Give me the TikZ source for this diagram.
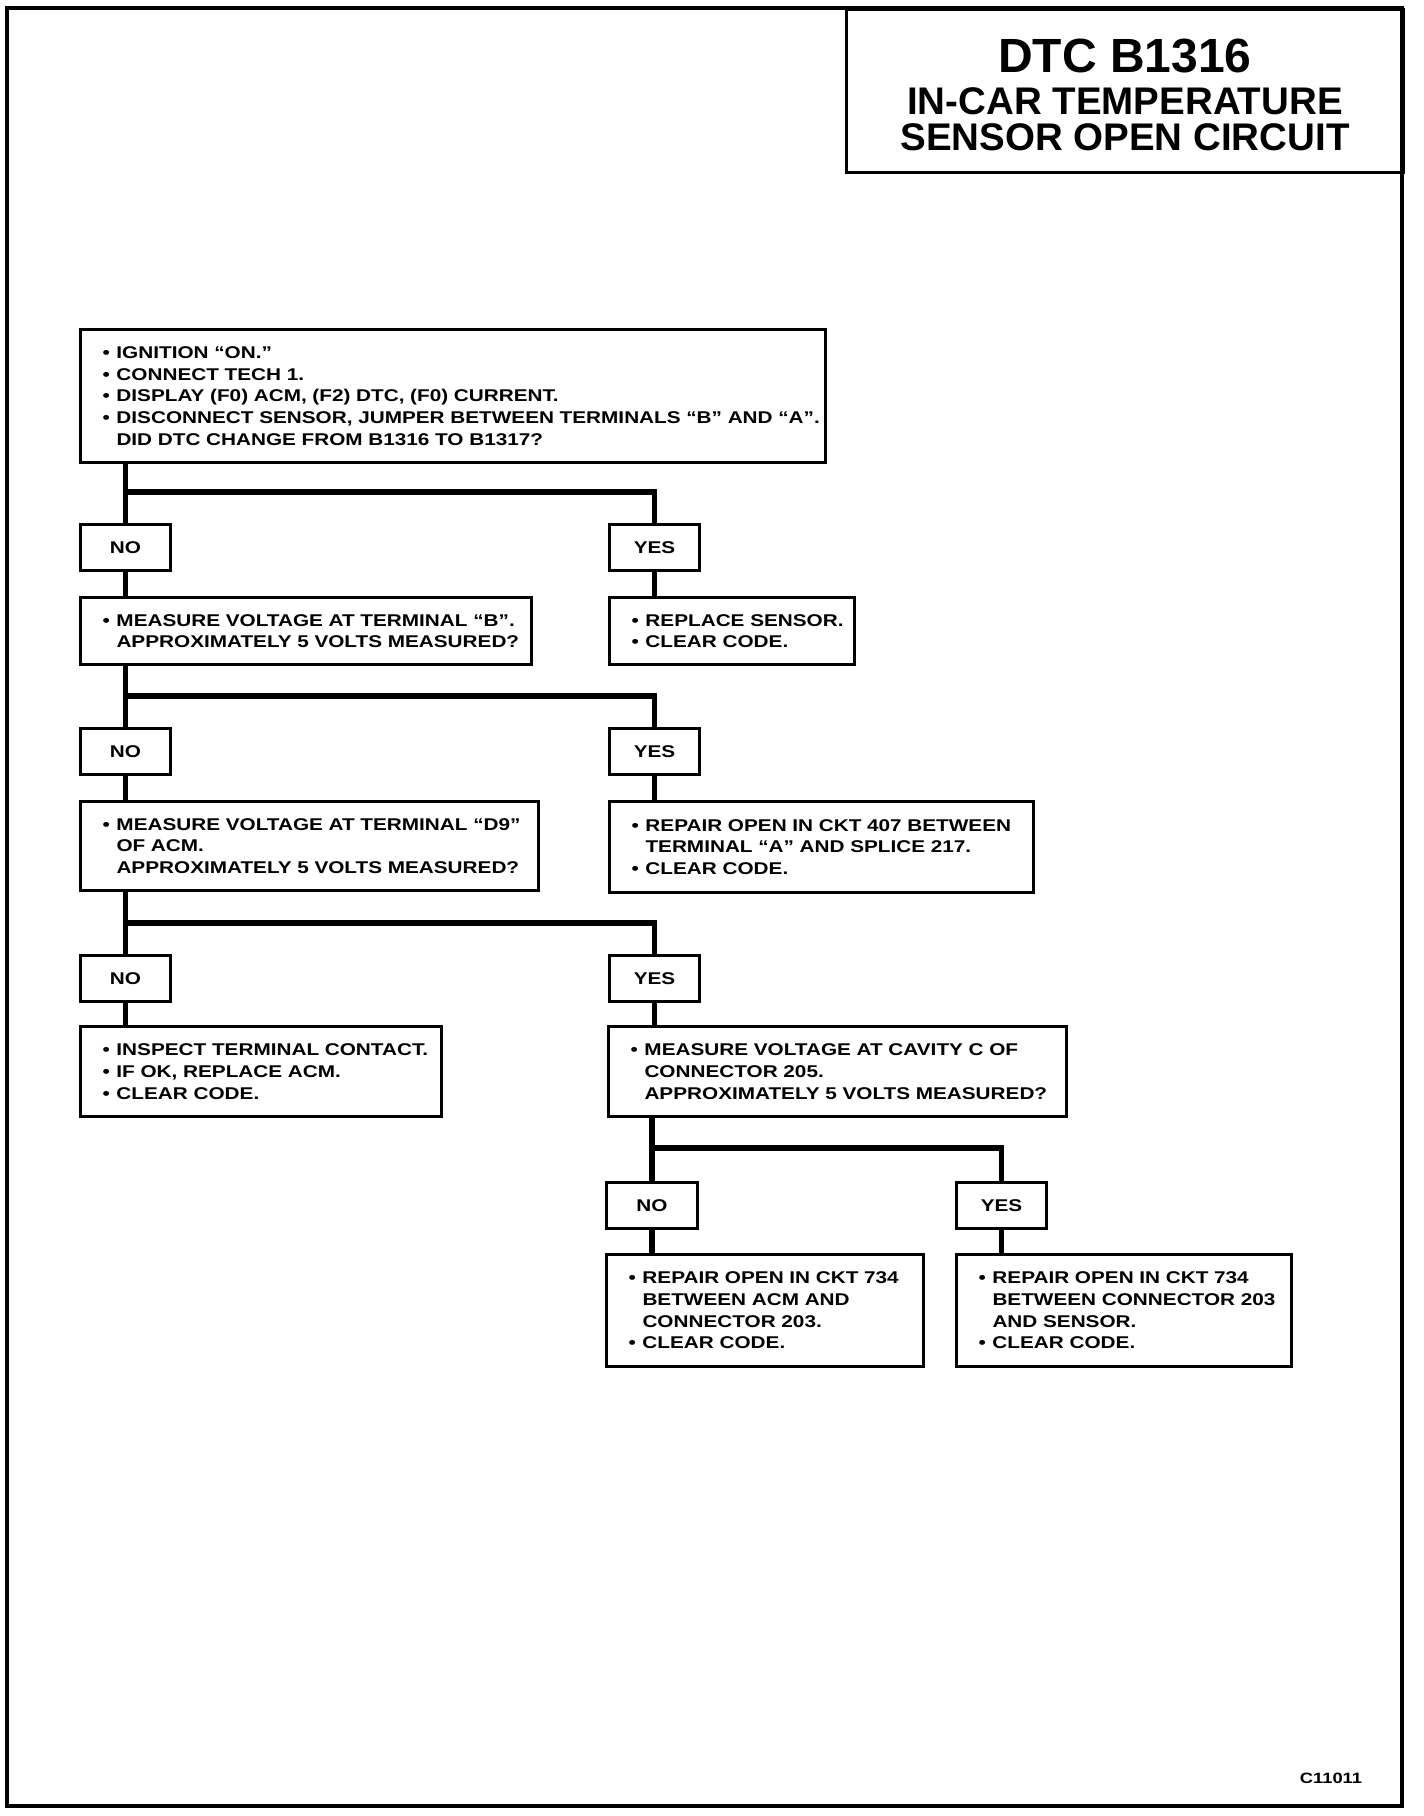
\documentclass[tikz,border=0pt]{standalone}
\usepackage{fontspec}
\setmainfont{Liberation Sans}
\newfontfamily\bodyfam[FakeStretch=1.22]{Liberation Sans}
\newcommand\bitem[1]{\mbox{\makebox[14pt][l]{•}#1}}
\newcommand\bcont[1]{\mbox{\hspace*{14pt}#1}}
\begin{document}
\begin{tikzpicture}[x=1pt,y=-1pt,
  boxframe/.style={draw, line width=3pt, anchor=north west},
  txtbox/.style={boxframe, inner xsep=22pt, inner ysep=0pt, align=left,
     font=\bodyfam\bfseries\fontsize{17}{21.7}\selectfont},
  lbl/.style={boxframe, inner sep=0pt, minimum width=90pt, minimum height=46pt,
     font=\bodyfam\bfseries\fontsize{17}{21.7}\selectfont},
  conn/.style={line width=5.5pt}]
\useasboundingbox (0,0) rectangle (1424,1816);
% outer frame
\draw[line width=3.5pt] (7,8) rectangle (1402,1806);
% title
\node[boxframe, inner sep=0pt, minimum width=557pt, minimum height=163pt,
  font=\bfseries] (title) at (845,8)
  {\parbox{550pt}{\vspace*{8pt}\centering\fontsize{48}{48}\selectfont DTC B1316\par
   \vspace{5.5pt}\fontsize{38.5}{36}\selectfont IN-CAR TEMPERATURE\par SENSOR OPEN CIRCUIT\par}};
% boxes
\node[txtbox, text width=701pt, minimum height=133pt] (b1) at (79,328)
  {\bitem{IGNITION “ON.”}\\\bitem{CONNECT TECH 1.}\\\bitem{DISPLAY (F0) ACM, (F2) DTC, (F0) CURRENT.}\\
   \bitem{DISCONNECT SENSOR, JUMPER BETWEEN TERMINALS “B” AND “A”.}\\\bcont{DID DTC CHANGE FROM B1316 TO B1317?}};
\node[lbl] (no1) at (79,523) {NO};
\node[lbl] (yes1) at (608,523) {YES};
\node[txtbox, text width=407pt, minimum height=67pt] (b2) at (79,596)
  {\bitem{MEASURE VOLTAGE AT TERMINAL “B”.}\\\bcont{APPROXIMATELY 5 VOLTS MEASURED?}};
\node[txtbox, text width=201pt, minimum height=67pt] (r1) at (608,596)
  {\bitem{REPLACE SENSOR.}\\\bitem{CLEAR CODE.}};
\node[lbl] (no2) at (79,727) {NO};
\node[lbl] (yes2) at (608,727) {YES};
\node[txtbox, text width=414pt, minimum height=89pt] (b3) at (79,800)
  {\bitem{MEASURE VOLTAGE AT TERMINAL “D9”}\\\bcont{OF ACM.}\\\bcont{APPROXIMATELY 5 VOLTS MEASURED?}};
\node[txtbox, text width=380pt, minimum height=91pt] (r2) at (608,800)
  {\bitem{REPAIR OPEN IN CKT 407 BETWEEN}\\\bcont{TERMINAL “A” AND SPLICE 217.}\\\bitem{CLEAR CODE.}};
\node[lbl] (no3) at (79,954) {NO};
\node[lbl] (yes3) at (608,954) {YES};
\node[txtbox, text width=317pt, minimum height=90pt] (r3) at (79,1025)
  {\bitem{INSPECT TERMINAL CONTACT.}\\\bitem{IF OK, REPLACE ACM.}\\\bitem{CLEAR CODE.}};
\node[txtbox, text width=414pt, minimum height=90pt] (b4) at (607,1025)
  {\bitem{MEASURE VOLTAGE AT CAVITY C OF}\\\bcont{CONNECTOR 205.}\\\bcont{APPROXIMATELY 5 VOLTS MEASURED?}};
\node[lbl, minimum width=91pt] (no4) at (605,1181) {NO};
\node[lbl] (yes4) at (955,1181) {YES};
\node[txtbox, text width=273pt, minimum height=112pt] (r4) at (605,1253)
  {\bitem{REPAIR OPEN IN CKT 734}\\\bcont{BETWEEN ACM AND}\\\bcont{CONNECTOR 203.}\\\bitem{CLEAR CODE.}};
\node[txtbox, text width=291pt, minimum height=112pt] (r5) at (955,1253)
  {\bitem{REPAIR OPEN IN CKT 734}\\\bcont{BETWEEN CONNECTOR 203}\\\bcont{AND SENSOR.}\\\bitem{CLEAR CODE.}};
\node[font=\bodyfam\bfseries\fontsize{15}{17}\selectfont] (code) at (1331,1778) {C11011};
% junctions
\coordinate (j1) at (124,492);
\coordinate (j2) at (124,696);
\coordinate (j3) at (124,923);
\coordinate (j4) at (650.5,1148);
% connectors
\draw[conn] (no1.north |- b1.south) -- (no1.north);
\draw[conn] (j1) -| (yes1.north);
\draw[conn] (no1.south) -- (no1.south |- b2.north);
\draw[conn] (yes1.south) -- (yes1.south |- r1.north);
\draw[conn] (no2.north |- b2.south) -- (no2.north);
\draw[conn] (j2) -| (yes2.north);
\draw[conn] (no2.south) -- (no2.south |- b3.north);
\draw[conn] (yes2.south) -- (yes2.south |- r2.north);
\draw[conn] (no3.north |- b3.south) -- (no3.north);
\draw[conn] (j3) -| (yes3.north);
\draw[conn] (no3.south) -- (no3.south |- r3.north);
\draw[conn] (yes3.south) -- (yes3.south |- b4.north);
\draw[conn] (no4.north |- b4.south) -- (no4.north);
\draw[conn] (j4) -| (yes4.north);
\draw[conn] (no4.south) -- (no4.south |- r4.north);
\draw[conn] (yes4.south) -- (yes4.south |- r5.north);
\end{tikzpicture}
\end{document}
